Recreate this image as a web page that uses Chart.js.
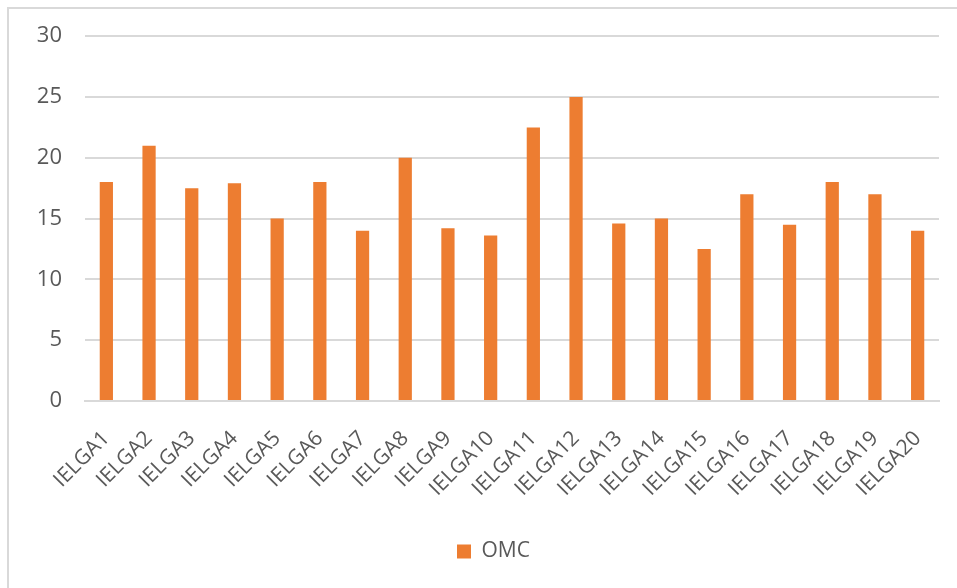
<!DOCTYPE html>
<html>
<head>
<meta charset="utf-8">
<script src="https://cdn.jsdelivr.net/npm/chart.js@4.4.0/dist/chart.umd.min.js"></script>
<style>
  html, body { margin: 0; padding: 0; background: #fff; }
  #wrap { position: relative; width: 957px; height: 588px; overflow: hidden; }
  #frame { position: absolute; left: 7px; top: 7px; width: 980px; height: 620px; border: 2px solid #d9d9d9; box-sizing: border-box; }
  canvas { position: absolute; left: 0; top: 0; }
</style>
</head>
<body>
<div id="wrap">
  <div id="frame"></div>
  <canvas id="chart" width="957" height="588"></canvas>
</div>
<script>
// data
const categories = ["IELGA1", "IELGA2", "IELGA3", "IELGA4", "IELGA5", "IELGA6", "IELGA7", "IELGA8", "IELGA9", "IELGA10",
  "IELGA11", "IELGA12", "IELGA13", "IELGA14", "IELGA15", "IELGA16", "IELGA17", "IELGA18", "IELGA19", "IELGA20"];
const omcValues = [18, 21, 17.5, 17.9, 15, 18, 14, 20, 14.2, 13.6, 22.5, 25, 14.6, 15, 12.5, 17, 14.5, 18, 17, 14];
const yTicks = { min: 0, max: 30, step: 5 };

const textColor = "#595959";
const gridColor = "#d9d9d9";

Chart.defaults.font.family = "'Open Sans', 'Noto Sans', sans-serif";
Chart.defaults.color = textColor;

// legend sits a bit right of centre in the original
const legendShift = {
  id: "legendShift",
  afterLayout(chart) {
    if (chart.legend) {
      chart.legend.left += 24;
      chart.legend.right += 24;
    }
  },
};

new Chart(document.getElementById("chart").getContext("2d"), {
  type: "bar",
  data: {
    labels: categories,
    datasets: [{
      label: "OMC",
      data: omcValues,
      backgroundColor: "#ed7d31",
      borderWidth: 0,
      barPercentage: 1,
      categoryPercentage: 0.31,
    }],
  },
  options: {
    responsive: false,
    animation: false,
    layout: { padding: { left: 0, right: 18, top: 34, bottom: 16 } },
    plugins: {
      tooltip: { enabled: false },
      legend: {
        position: "bottom",
        labels: {
          color: textColor,
          font: { size: 21 },
          boxWidth: 14,
          boxHeight: 14,
          padding: 6,
        },
      },
    },
    scales: {
      x: {
        grid: { display: false },
        border: { color: gridColor, width: 2 },
        ticks: {
          color: textColor,
          font: { size: 21 },
          minRotation: 45,
          maxRotation: 45,
          autoSkip: false,
          padding: 17,
        },
        afterFit: (s) => { s.height = 134; },
      },
      y: {
        min: yTicks.min,
        max: yTicks.max,
        grid: { color: gridColor, lineWidth: 2, drawTicks: false },
        border: { display: false },
        ticks: {
          stepSize: yTicks.step,
          color: textColor,
          font: { size: 22 },
          padding: 23,
        },
        afterFit: (s) => { s.width = 85; },
      },
    },
  },
  plugins: [legendShift],
});
</script>
</body>
</html>
